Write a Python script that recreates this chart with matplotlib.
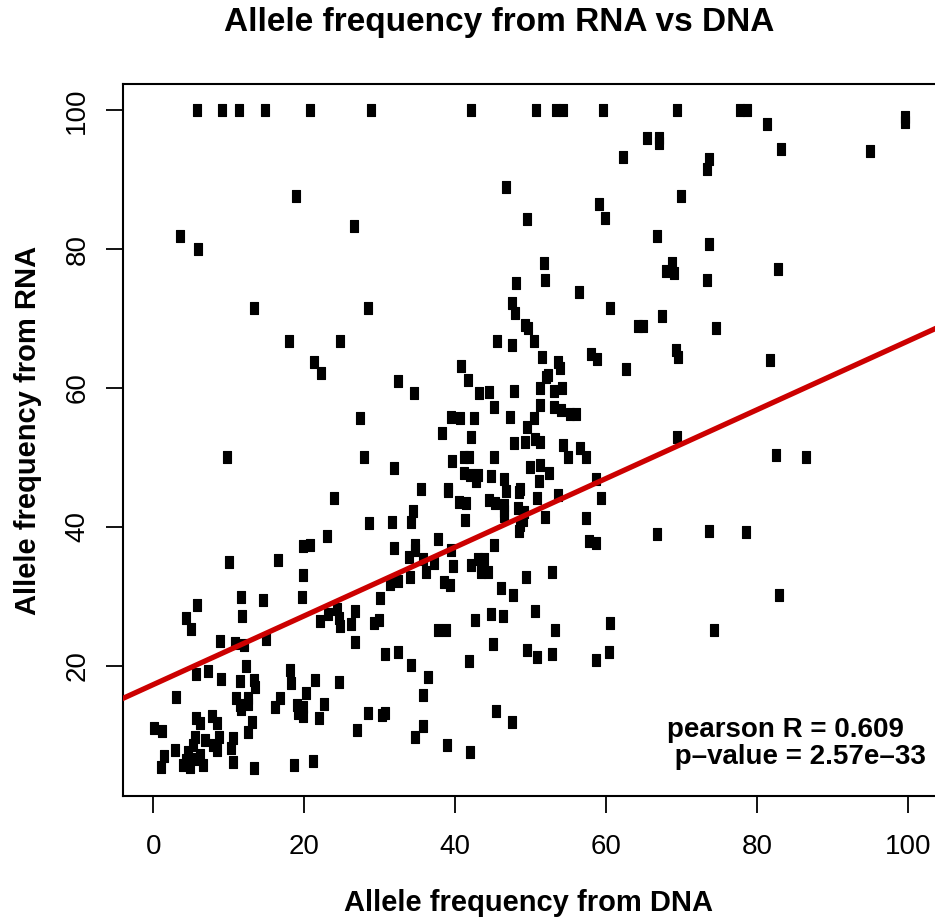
import matplotlib as mpl
mpl.use('Agg')
import numpy as np
import matplotlib.pyplot as plt
from matplotlib.path import Path

plt.rcParams['font.family'] = ['Liberation Sans', 'DejaVu Sans']

# allele frequency (%): DNA on x, RNA on y
dna_af = [
    5.8, 9.1, 11.4, 14.8, 20.8, 28.8, 42.1, 50.7, 53.4, 54.3, 59.6, 69.4, 77.8, 78.7,
    81.4, 99.6, 99.6, 65.5, 67.0, 67.0, 62.3, 73.7, 73.4, 83.2, 95.0, 69.9, 59.1, 59.9,
    49.6, 66.8, 73.7, 51.8, 51.9, 68.8, 68.0, 69.0, 73.4, 82.8, 56.4, 60.6, 67.4, 64.2,
    64.9, 74.6, 49.3, 49.7, 50.4, 51.5, 53.7, 53.9, 58.0, 58.8, 62.6, 69.3, 69.6, 81.7,
    52.0, 52.3, 51.3, 53.1, 54.2, 51.3, 53.1, 54.1, 55.2, 56.0, 50.4, 49.6, 69.4, 46.7,
    18.9, 26.6, 3.5, 6.0, 48.1, 13.3, 28.4, 47.6, 47.9, 18.0, 24.7, 45.5, 47.6, 21.3,
    22.3, 32.4, 34.6, 40.8, 41.7, 43.2, 44.5, 47.8, 45.1, 27.4, 39.4, 40.7, 42.5, 47.3,
    38.3, 42.1, 47.8, 49.3, 50.6, 51.3, 9.8, 28.0, 31.9, 41.2, 41.8, 39.6, 45.2, 49.9,
    51.2, 41.2, 42.0, 43.0, 42.8, 44.7, 46.5, 51.1, 35.5, 39.1, 39.1, 46.7, 48.6, 48.5,
    23.9, 50.8, 40.5, 41.5, 44.5, 45.3, 46.5, 46.5, 46.5, 48.4, 49.2, 49.0, 48.6, 48.5,
    34.4, 28.6, 31.6, 34.1, 41.3, 23.0, 19.9, 20.8, 37.8, 31.9, 34.7, 34.7, 33.9, 39.4,
    45.2, 10.0, 16.5, 35.8, 37.2, 36.1, 39.7, 42.1, 43.1, 43.8, 43.4, 43.5, 44.4, 19.9,
    34.0, 31.4, 32.5, 38.5, 39.3, 49.4, 46.1, 47.7, 30.0, 11.7, 14.6, 19.7, 5.8, 4.4,
    5.0, 11.8, 24.4, 23.1, 22.1, 24.6, 24.8, 26.8, 26.2, 29.3, 29.9, 37.7, 38.8, 42.7,
    44.7, 46.3, 50.6, 8.8, 10.8, 12.0, 14.9, 26.7, 45.0, 30.7, 32.5, 34.1, 41.8, 49.6,
    50.8, 12.3, 5.7, 7.3, 9.0, 11.5, 13.4, 13.5, 18.1, 18.3, 21.5, 24.6, 36.4, 3.0,
    20.2, 35.8, 11.0, 12.5, 11.6, 12.5, 11.5, 16.2, 16.8, 19.0, 19.8, 19.2, 19.9, 22.6,
    22.0, 28.5, 30.3, 30.7, 45.4, 47.5, 27.0, 35.8, 34.7, 38.9, 42.0, 13.1, 12.6, 10.6,
    10.3, 10.6, 13.4, 18.7, 21.2, 0.1, 1.2, 5.7, 6.2, 7.8, 8.4, 2.9, 1.4, 1.1,
    4.0, 4.9, 4.6, 5.3, 5.6, 6.2, 6.6, 6.8, 7.9, 8.5, 8.7, 5.5, 4.4, 54.3,
    56.6, 57.4, 55.0, 52.4, 53.7, 51.9, 57.4, 57.8, 58.7, 58.7, 59.4, 52.9, 53.3, 52.9,
    58.7, 82.5, 86.5, 66.7, 73.7, 78.5, 60.6, 74.3, 82.9, 60.4,
]
rna_af = [
    100, 100, 100, 100, 100, 100, 100, 100, 100, 100, 100, 100, 100, 100,
    98.1, 98.3, 99.0, 96.0, 96.0, 95.3, 93.3, 93.0, 91.5, 94.5, 94.2, 87.6, 86.5, 84.5,
    84.4, 81.9, 80.7, 78.0, 75.5, 78.0, 76.9, 76.6, 75.6, 77.2, 73.8, 71.5, 70.3, 68.9,
    68.9, 68.6, 69.0, 68.6, 66.7, 64.4, 63.8, 62.9, 64.9, 64.2, 62.7, 65.4, 64.4, 64.0,
    61.6, 61.8, 60.0, 59.6, 60.0, 57.6, 57.2, 56.8, 56.3, 56.2, 55.6, 54.4, 53.0, 88.9,
    87.7, 83.3, 81.9, 80.0, 75.1, 71.5, 71.5, 72.3, 70.8, 66.7, 66.7, 66.7, 66.2, 63.7,
    62.2, 61.0, 59.3, 63.1, 61.2, 59.3, 59.4, 59.6, 57.2, 55.6, 55.8, 55.6, 55.6, 55.8,
    53.5, 52.9, 52.1, 52.2, 52.6, 52.2, 50.1, 50.1, 48.4, 50.1, 50.1, 49.5, 50.1, 48.6,
    48.9, 47.7, 47.4, 47.4, 46.6, 47.3, 46.9, 46.6, 45.5, 45.5, 45.1, 45.1, 45.5, 45.0,
    44.2, 44.2, 43.5, 43.4, 43.9, 43.4, 43.1, 42.3, 41.6, 42.7, 42.1, 40.9, 40.2, 39.4,
    42.3, 40.5, 40.7, 40.7, 41.0, 38.6, 37.2, 37.3, 38.2, 36.9, 37.3, 36.6, 35.6, 36.6,
    37.3, 34.9, 35.2, 35.3, 34.8, 33.5, 34.3, 34.5, 35.4, 35.4, 34.3, 33.5, 33.5, 33.0,
    32.7, 31.7, 32.2, 32.0, 31.6, 32.7, 31.2, 30.2, 29.8, 29.9, 29.5, 29.9, 28.7, 26.8,
    25.2, 27.2, 28.2, 27.4, 26.4, 26.8, 25.7, 27.9, 26.0, 26.2, 26.5, 25.1, 25.1, 26.5,
    27.4, 27.2, 27.9, 23.6, 23.2, 22.9, 23.8, 23.4, 23.1, 21.6, 22.0, 20.1, 20.7, 22.3,
    21.2, 20.0, 18.8, 19.2, 18.1, 17.7, 17.9, 16.9, 19.3, 17.5, 17.9, 17.6, 18.3, 15.5,
    16.1, 15.7, 15.3, 15.3, 13.8, 14.4, 14.3, 14.0, 15.3, 14.3, 14.0, 13.1, 12.7, 14.4,
    12.4, 13.1, 12.9, 13.1, 13.5, 11.8, 10.7, 11.3, 9.7, 8.5, 7.6, 11.8, 10.4, 9.6,
    8.1, 6.1, 5.3, 5.7, 6.3, 11.0, 10.6, 12.4, 11.7, 12.7, 11.7, 7.8, 7.0, 5.4,
    5.6, 5.4, 7.6, 8.5, 9.7, 7.1, 5.6, 9.2, 8.5, 7.8, 9.7, 6.6, 6.4, 51.8,
    51.4, 50.1, 50.1, 47.8, 44.6, 41.4, 41.3, 38.0, 37.6, 46.9, 44.2, 33.5, 25.1, 21.6,
    20.8, 50.4, 50.1, 39.0, 39.4, 39.2, 26.1, 25.1, 30.1, 22.0,
]

# linear fit shown in the figure
fit_intercept = 17.25
fit_slope = 0.495

x_ticks = [0, 20, 40, 60, 80, 100]
y_ticks = [20, 40, 60, 80, 100]
stats_lines = ['pearson R = 0.609', ' p\u2013value = 2.57e\u201333']

# tall box glyph used as the point symbol
box = Path([(-0.36, -0.5), (0.36, -0.5), (0.36, 0.5), (-0.36, 0.5), (-0.36, -0.5)],
           [Path.MOVETO, Path.LINETO, Path.LINETO, Path.LINETO, Path.CLOSEPOLY])

fig = plt.figure(figsize=(9.35, 9.21), dpi=100)
W, H = 935, 921
ax = fig.add_axes([123 / W, 125 / H, 815 / W, 712 / H])

ax.scatter(dna_af, rna_af, marker=box, s=8.8 ** 2, c='black', edgecolors='black',
           linewidths=0.8, zorder=2)

xx = np.array([-10, 110])
ax.plot(xx, fit_intercept + fit_slope * xx, color='#CC0000', lw=3.8, zorder=3)

ax.set_xlim(-4, 104)
ax.set_ylim(1.2, 103.8)
ax.set_xticks(x_ticks)
ax.set_yticks(y_ticks)
ax.set_yticklabels([str(v) for v in y_ticks], rotation=90, va='center')
ax.tick_params(axis='both', direction='out', length=12.5, width=1.3, labelsize=20,
               color='black')
ax.tick_params(axis='x', pad=15)
ax.tick_params(axis='y', pad=11)
for s in ax.spines.values():
    s.set_linewidth(1.5)

fig.text(528 / W, 1 - 903 / H, 'Allele frequency from DNA', fontsize=21,
         fontweight='bold', ha='center', va='center')
fig.text(28 / W, 1 - 430 / H, 'Allele frequency from RNA', fontsize=21,
         fontweight='bold', ha='center', va='center', rotation=90)
fig.text(499.5 / W, 1 - 22 / H, 'Allele frequency from RNA vs DNA', fontsize=24,
         fontweight='bold', ha='center', va='center')

fig.text(667 / W, 1 - 730 / H, stats_lines[0], fontsize=20, fontweight='bold',
         va='center', ha='left')
fig.text(667 / W, 1 - 757 / H, stats_lines[1], fontsize=20, fontweight='bold',
         va='center', ha='left')

fig.savefig('out.png', dpi=100)
